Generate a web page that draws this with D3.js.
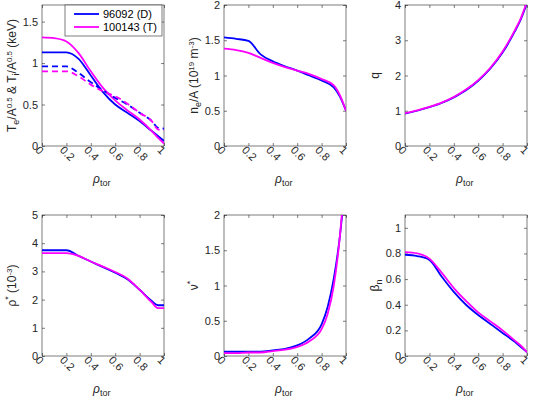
<!DOCTYPE html>
<html><head><meta charset="UTF-8">
<script src="https://d3js.org/d3.v7.min.js"></script>
<style>body{margin:0;background:#fff}text{font-family:Arial,"Liberation Sans",sans-serif;}</style>
</head><body><svg id="c" width="533" height="401"></svg>
<script>
// rho_tor grid
let xs = [0,0.1,0.2,0.3,0.4,0.5,0.6,0.7,0.8,0.9,0.95,1];
let teD = [1.13,1.13,1.13,1.05,0.85,0.65,0.5,0.4,0.3,0.18,0.12,0.06];
let teT = [1.31,1.30,1.26,1.12,0.90,0.70,0.55,0.43,0.32,0.18,0.1,0.03];
let tiD = [0.96,0.96,0.96,0.88,0.77,0.67,0.58,0.5,0.4,0.3,0.22,0.21];
let tiT = [0.9,0.9,0.9,0.84,0.74,0.66,0.6,0.51,0.4,0.3,0.2,0.19];
let neD = [1.54,1.52,1.49,1.3,1.2,1.13,1.07,1.0,0.93,0.83,0.7,0.5];
let neT = [1.38,1.36,1.32,1.25,1.18,1.12,1.07,1.02,0.95,0.86,0.72,0.5];
let qD = [0.92,1.0,1.1,1.22,1.38,1.58,1.85,2.2,2.65,3.25,3.6,4.05];
let qT = [0.93,1.01,1.11,1.23,1.39,1.6,1.87,2.22,2.68,3.28,3.63,4.1];
let rsD = [3.75,3.75,3.75,3.55,3.35,3.15,2.95,2.72,2.35,1.95,1.8,1.8];
let rsT = [3.65,3.65,3.65,3.55,3.35,3.17,2.98,2.75,2.35,1.9,1.7,1.7];
let nuX = [0,0.1,0.2,0.3,0.4,0.5,0.6,0.7,0.8,0.85,0.9,0.95,0.98];
let nuD = [0.06,0.06,0.06,0.06,0.08,0.1,0.15,0.25,0.45,0.7,1.1,1.7,2.2];
let nuT = [0.04,0.04,0.05,0.05,0.07,0.09,0.13,0.21,0.38,0.6,1.0,1.7,2.3];
let bnD = [0.79,0.78,0.75,0.62,0.5,0.4,0.32,0.25,0.18,0.11,0.07,0.03];
let bnT = [0.81,0.8,0.76,0.65,0.53,0.43,0.34,0.27,0.2,0.12,0.08,0.03];
let xTicks = [0,0.2,0.4,0.6,0.8,1];

let sub = t => '<tspan dy="3" font-size="9">' + t + '</tspan><tspan dy="-3">';
let sup = t => '<tspan dy="-4" font-size="8">' + t + '</tspan><tspan dy="4">';
let panels = [
 {x0:42,y0:5,ymax:1.7,yt:[0,0.5,1,1.5],lab:'T' + sub('e') + '/A' + sup('0.5') + ' &amp; T' + sub('i') + '/A' + sup('0.5') + ' (keV)</tspan></tspan></tspan></tspan>',
  s:[[xs,teD,'#0000ff',''],[xs,teT,'#ff00ff',''],[xs,tiD,'#0000ff','6,4'],[xs,tiT,'#ff00ff','6,4']]},
 {x0:224,y0:5,ymax:2,yt:[0,0.5,1,1.5,2],lab:'n' + sub('e') + '/A (10' + sup('19') + ' m' + sup('-3') + ')</tspan></tspan></tspan>',
  s:[[xs,neD,'#0000ff',''],[xs,neT,'#ff00ff','']]},
 {x0:405,y0:5,ymax:4,yt:[0,1,2,3,4],lab:'q',s:[[xs,qD,'#0000ff',''],[xs,qT,'#ff00ff','']]},
 {x0:42,y0:215,ymax:5,yt:[0,1,2,3,4,5],lab:'ρ<tspan dy="-5" font-size="9">*</tspan><tspan dy="5"> (10' + sup('-3') + ')</tspan></tspan>',
  s:[[xs,rsD,'#0000ff',''],[xs,rsT,'#ff00ff','']]},
 {x0:224,y0:215,ymax:2,yt:[0,0.5,1,1.5,2],lab:'ν<tspan dy="-5" font-size="9">*</tspan>',s:[[nuX,nuD,'#0000ff',''],[nuX,nuT,'#ff00ff','']]},
 {x0:405,y0:215,ymax:1.1,yt:[0,0.2,0.4,0.6,0.8,1],lab:'β' + sub('n') + '</tspan>',s:[[xs,bnD,'#0000ff',''],[xs,bnT,'#ff00ff','']]}
];
let W = 122, H = 141;
let svg = d3.select('#c');
panels.forEach((p, i) => {
  let g = svg.append('g').attr('transform', 'translate(' + p.x0 + ',' + p.y0 + ')');
  let x = d3.scaleLinear().domain([0,1]).range([0,W]);
  let y = d3.scaleLinear().domain([0,p.ymax]).range([H,0]);
  g.append('clipPath').attr('id','cl'+i).append('rect').attr('width',W).attr('height',H);
  g.append('rect').attr('width',W).attr('height',H).attr('fill','none').attr('stroke','#262626').attr('stroke-width',0.6);
  let xa = g.append('g').attr('transform','translate(0,'+H+')')
    .call(d3.axisBottom(x).tickValues(xTicks).tickFormat(d3.format('')).tickSize(-3).tickPadding(4));
  xa.selectAll('text').attr('transform','rotate(45)').attr('text-anchor','start').attr('x',-2).attr('y',5).attr('dy','0.35em');
  g.append('g').call(d3.axisLeft(y).tickValues(p.yt).tickFormat(d3.format('')).tickSize(-3).tickPadding(4));
  g.append('g').attr('transform','translate('+W+',0)').call(d3.axisRight(y).tickValues(p.yt).tickFormat('').tickSize(-3));
  g.append('g').call(d3.axisTop(x).tickValues(xTicks).tickFormat('').tickSize(-3));
  g.selectAll('.domain').remove();
  g.selectAll('.tick line').attr('stroke','#262626').attr('stroke-width',0.6);
  g.selectAll('.tick text').attr('font-size',11).attr('fill','#262626');
  g.append('text').attr('x',W/2-10).attr('y',H+37).attr('font-size',12).attr('fill','#262626')
    .html('<tspan font-style="italic">ρ</tspan><tspan dy="3" font-size="9">tor</tspan>');
  g.append('text').attr('transform','translate(-26,'+(H/2)+') rotate(-90)').attr('text-anchor','middle')
    .attr('font-size',12).attr('fill','#262626').html(p.lab);
  let line = d3.line().x(d => x(d[0])).y(d => y(d[1])).curve(d3.curveMonotoneX);
  p.s.forEach(s => {
    g.append('path').attr('clip-path','url(#cl'+i+')').attr('d', line(d3.zip(s[0], s[1])))
      .attr('fill','none').attr('stroke',s[2]).attr('stroke-width',1.8).attr('stroke-dasharray',s[3]);
  });
  if (i === 0) {
    let lg = g.append('g').attr('transform','translate(23,0)');
    lg.append('rect').attr('width',97).attr('height',31).attr('fill','#fff').attr('stroke','#262626').attr('stroke-width',0.6);
    [['96092 (D)','#0000ff'],['100143 (T)','#ff00ff']].forEach((l,j) => {
      lg.append('line').attr('x1',9).attr('x2',34).attr('y1',9+j*13).attr('y2',9+j*13).attr('stroke',l[1]).attr('stroke-width',1.8);
      lg.append('text').attr('x',38).attr('y',13+j*13).attr('font-size',11).attr('fill','#000').text(l[0]);
    });
  }
});
</script></body></html>
